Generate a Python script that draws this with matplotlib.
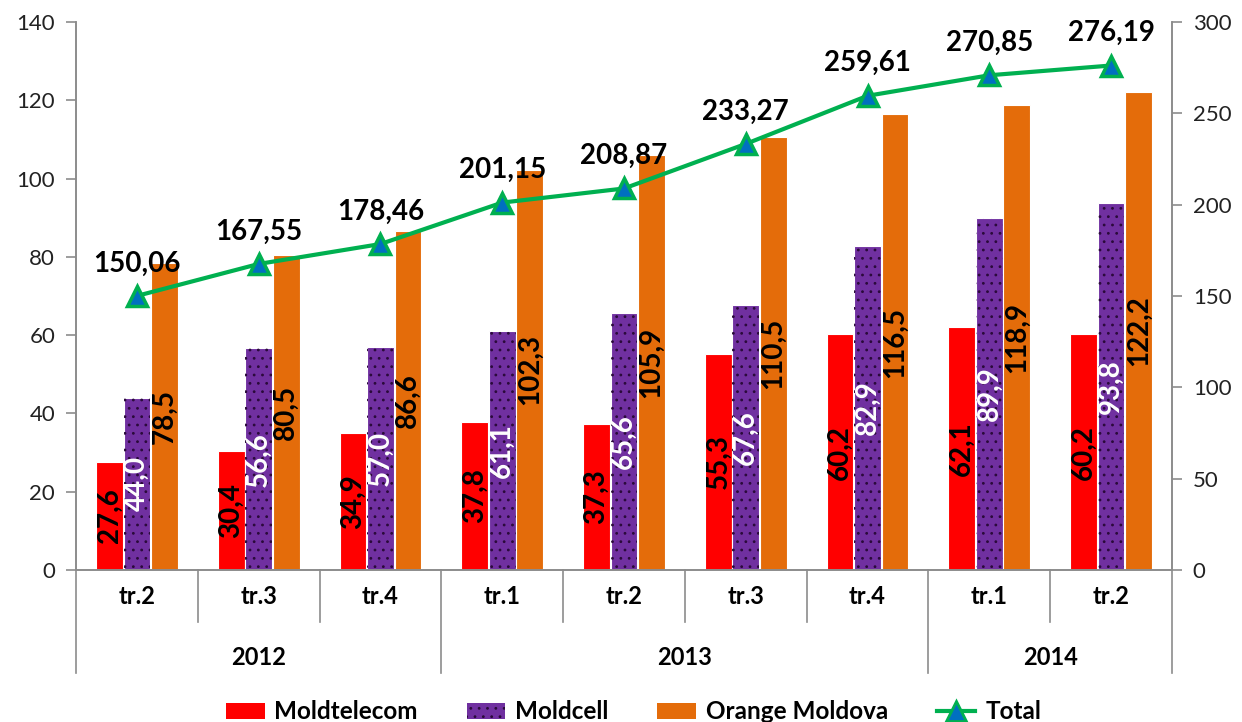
import matplotlib
matplotlib.use('Agg')
import matplotlib.pyplot as plt
import matplotlib.transforms as mtransforms
from matplotlib.patches import Patch
from matplotlib.lines import Line2D

plt.rcParams['font.family'] = ['Lato', 'DejaVu Sans']
plt.rcParams['hatch.linewidth'] = 0.8

# Data
quarters = ['tr.2', 'tr.3', 'tr.4', 'tr.1', 'tr.2', 'tr.3', 'tr.4', 'tr.1', 'tr.2']
years = ['2012', '2013', '2014']
year_counts = [3, 4, 2]
moldtelecom = [27.6, 30.4, 34.9, 37.8, 37.3, 55.3, 60.2, 62.1, 60.2]
moldcell = [44.0, 56.6, 57.0, 61.1, 65.6, 67.6, 82.9, 89.9, 93.8]
orange = [78.5, 80.5, 86.6, 102.3, 105.9, 110.5, 116.5, 118.9, 122.2]
total = [150.06, 167.55, 178.46, 201.15, 208.87, 233.27, 259.61, 270.85, 276.19]

RED = '#FF0000'
PURPLE = '#7030A0'
ORANGE = '#E46C0A'
GREEN = '#00B050'
BLUE = '#0070C0'
GRAY = '#8C8C8C'
DOTS = '#2a0a3a'


def fmt(v, nd):
    return f'{v:.{nd}f}'.replace('.', ',')


fig = plt.figure(figsize=(12.42, 7.22), dpi=100)
ax = fig.add_axes([0.0612, 0.2105, 0.8824, 0.759])
ax2 = ax.twinx()

x = list(range(len(quarters)))
w = 0.22
off = 0.226

b1 = ax.bar([i - off for i in x], moldtelecom, w, color=RED, edgecolor='white', linewidth=0.8)
b2 = ax.bar(x, moldcell, w, color=PURPLE, edgecolor='white', linewidth=0.8)
ax.bar(x, moldcell, w, facecolor='none', edgecolor=DOTS, hatch='..', linewidth=0)
b3 = ax.bar([i + off for i in x], orange, w, color=ORANGE, edgecolor='white', linewidth=0.8)

# bar value labels, centred in each bar, rotated
for bars, vals, col in [(b1, moldtelecom, 'black'), (b2, moldcell, 'white'), (b3, orange, 'black')]:
    for rect, v in zip(bars, vals):
        ax.text(rect.get_x() + rect.get_width() / 2, v / 2, fmt(v, 1), rotation=90,
                ha='center', va='center', fontsize=20, fontweight='bold', color=col)

ax2.plot(x, total, color=GREEN, linewidth=3, marker='^', markersize=15,
         markerfacecolor=BLUE, markeredgecolor=GREEN, markeredgewidth=2.5)
for i, v in enumerate(total):
    ax2.annotate(fmt(v, 2), (i, v), xytext=(0, 14), textcoords='offset points',
                 ha='center', va='bottom', fontsize=20, fontweight='bold')

ax.set_xlim(-0.5, len(quarters) - 0.5)
ax.set_ylim(0, 140)
ax2.set_ylim(0, 300)
ax.set_yticks(range(0, 141, 20))
ax2.set_yticks(range(0, 301, 50))

for a in (ax, ax2):
    a.spines['top'].set_visible(False)
    for s in ('left', 'right', 'bottom'):
        a.spines[s].set_color(GRAY)
        a.spines[s].set_linewidth(1.2)
    a.tick_params(axis='y', colors=GRAY, labelcolor='#222222', labelsize=16,
                  length=7, width=1.2, pad=8)
ax.set_xticks([])
ax2.set_xticks([])

# two-level category axis
trans = mtransforms.blended_transform_factory(ax.transData, ax.transAxes)
bounds = [-0.5]
for c in year_counts:
    bounds.append(bounds[-1] + c)
for k in range(len(quarters) + 1):
    xb = k - 0.5
    y_end = -0.188 if xb in bounds else -0.095
    ax.plot([xb, xb], [0, y_end], color=GRAY, linewidth=1.2, transform=trans, clip_on=False)
for i, q in enumerate(quarters):
    ax.text(i, -0.049, q, transform=trans, ha='center', va='center',
            fontsize=17, fontweight='bold')
for j, yr in enumerate(years):
    ax.text((bounds[j] + bounds[j + 1]) / 2, -0.159, yr, transform=trans,
            ha='center', va='center', fontsize=17, fontweight='bold')

handles = [
    Patch(facecolor=RED, edgecolor='none'),
    Patch(facecolor=PURPLE, edgecolor=DOTS, hatch='..', linewidth=0),
    Patch(facecolor=ORANGE, edgecolor='none'),
    Line2D([0], [0], color=GREEN, linewidth=3, marker='^', markersize=14,
           markerfacecolor=BLUE, markeredgecolor=GREEN, markeredgewidth=2),
]
labels = ['Moldtelecom', 'Moldcell', 'Orange Moldova', 'Total']
fig.legend(handles, labels, loc='center', bbox_to_anchor=(0.51, 0.014), ncol=4,
           frameon=False, prop={'size': 17.5, 'weight': 'bold'}, handlelength=1.6,
           handleheight=0.6, columnspacing=2.0, handletextpad=0.4)

fig.savefig('out.png', dpi=100)
